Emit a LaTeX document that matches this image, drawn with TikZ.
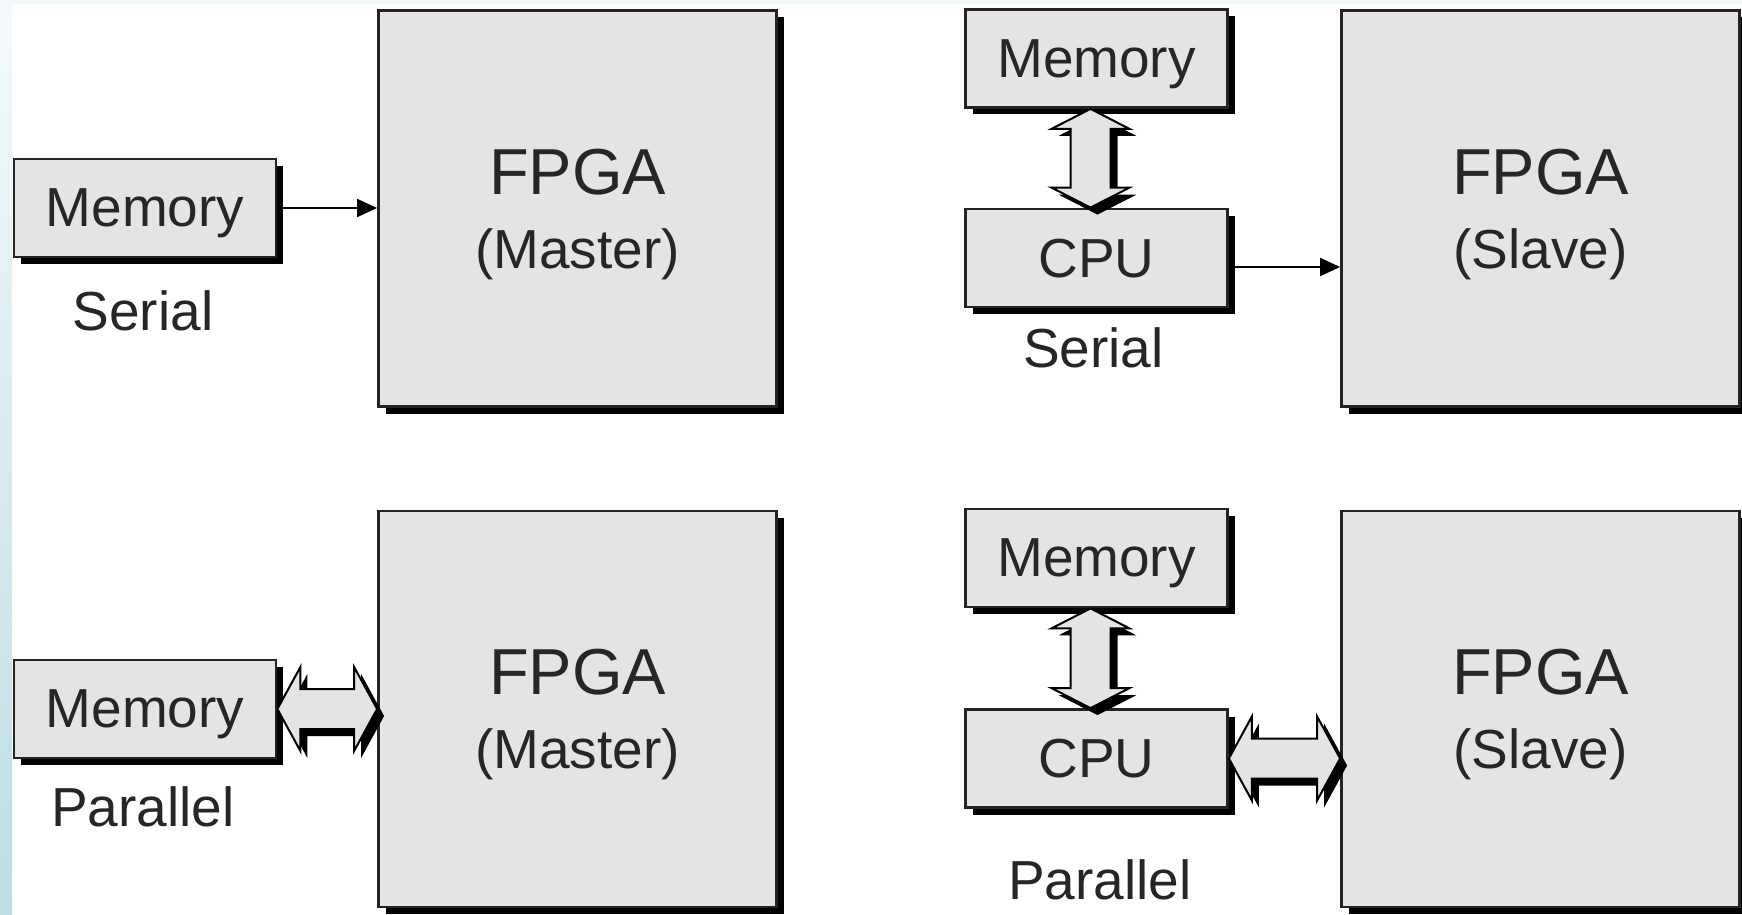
\documentclass[tikz,border=0pt]{standalone}
\usepackage{fontspec}
\setmainfont{Liberation Sans}
\usetikzlibrary{arrows.meta,calc,shadows}
\definecolor{boxfill}{RGB}{228,228,228}
\definecolor{boxline}{RGB}{35,35,35}
\definecolor{stripTop}{RGB}{243,250,252}
\definecolor{stripBot}{RGB}{190,220,228}
\newcommand\hdblarrow[2]{%
  \draw[blockarrow] (#1) -- ($(#1)+(23,-42)$) -- ($(#1)+(23,-20)$) -- ($(#2)+(-23,-20)$) -- ($(#2)+(-23,-42)$) -- (#2) -- ($(#2)+(-23,42)$) -- ($(#2)+(-23,20)$) -- ($(#1)+(23,20)$) -- ($(#1)+(23,42)$) -- cycle;}
\newcommand\vdblarrow[2]{%
  \draw[blockarrow] (#1) -- ($(#1)+(39,20)$) -- ($(#1)+(20,20)$) -- ($(#2)+(20,-20)$) -- ($(#2)+(39,-20)$) -- (#2) -- ($(#2)+(-39,-20)$) -- ($(#2)+(-20,-20)$) -- ($(#1)+(-20,20)$) -- ($(#1)+(-39,20)$) -- cycle;}
\tikzset{
  mybox/.style={draw=boxline, line width=1.4pt, fill=boxfill, inner sep=0pt,
    drop shadow={shadow xshift=3.5pt, shadow yshift=-3.5pt, opacity=1, fill=black},
    font=\fontsize{27.5}{37}\selectfont, text=black!85, align=center},
  smallbox/.style={mybox, minimum width=131pt, minimum height=49pt, text depth=0pt},
  bigbox/.style={mybox, minimum width=199pt, minimum height=198pt},
  lbl/.style={font=\fontsize{27.5}{33}\selectfont, text=black!85, inner sep=0pt},
  thinarrow/.style={line width=1pt, draw=black, -{Triangle[length=10pt,width=9pt]}},
  blockarrow/.style={fill=boxfill, draw=black, line width=1pt, line join=miter,
    drop shadow={shadow xshift=3.5pt, shadow yshift=-3.5pt, opacity=1, fill=black}}
}
\newcommand\fpgatxt[1]{{\fontsize{32.5}{37}\selectfont\rule{0pt}{28.5pt}FPGA}\\#1}
\begin{document}
\begin{tikzpicture}[x=0.5pt,y=-0.5pt]
\useasboundingbox (0,0) rectangle (1742,915);
\fill[white] (0,0) rectangle (1742,915);
\fill[stripTop] (0,0) rectangle (1742,4);
\shade[top color=stripTop, bottom color=stripBot] (0,0) rectangle (12,915);

% boxes
\node[smallbox] (memA) at (145,208) {Memory};
\node[bigbox]   (fpgaA) at (577.5,208.5) {\fpgatxt{(Master)}};
\node[smallbox] (memC) at (145,709) {Memory};
\node[bigbox]   (fpgaC) at (577.5,709) {\fpgatxt{(Master)}};
\node[smallbox] (memB) at (1096.5,58.5) {Memory};
\node[smallbox] (cpuB) at (1096.5,258) {CPU};
\node[bigbox]   (fpgaB) at (1540.5,208.5) {\fpgatxt{(Slave)}};
\node[smallbox] (memD) at (1096.5,558) {Memory};
\node[smallbox] (cpuD) at (1096.5,758.5) {CPU};
\node[bigbox]   (fpgaD) at (1540.5,709) {\fpgatxt{(Slave)}};

% labels
\node[lbl] (serA) at (143,311) {Serial};
\node[lbl] (serB) at (1093.5,348) {Serial};
\node[lbl] (parC) at (143,807) {Parallel};
\node[lbl] (parD) at (1100,880) {Parallel};

% serial connectors
\draw[thinarrow] (memA.east) -- (memA.east -| fpgaA.west);
\coordinate (sB) at ($(cpuB.east)+(0,9)$);
\draw[thinarrow] (sB) -- (sB -| fpgaB.west);

% parallel / bus connectors
\coordinate (vBt) at ($(memB.south)+(-6,0)$);
\coordinate (vBb) at ($(cpuB.north)+(-6,0)$);
\vdblarrow{vBt}{vBb}
\coordinate (vDt) at ($(memD.south)+(-6,0)$);
\coordinate (vDb) at ($(cpuD.north)+(-6,0)$);
\vdblarrow{vDt}{vDb}
\coordinate (hCr) at (memC.east -| fpgaC.west);
\hdblarrow{memC.east}{hCr}
\coordinate (hDr) at (cpuD.east -| fpgaD.west);
\hdblarrow{cpuD.east}{hDr}
\end{tikzpicture}
\end{document}
